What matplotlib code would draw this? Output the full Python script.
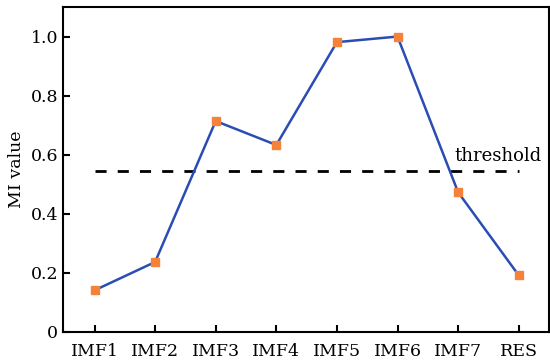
import matplotlib
matplotlib.use("Agg")
import matplotlib.pyplot as plt

categories = ["IMF1", "IMF2", "IMF3", "IMF4", "IMF5", "IMF6", "IMF7", "RES"]
mi_values = [0.141, 0.237, 0.714, 0.633, 0.981, 1.0, 0.473, 0.192]
threshold = 0.546
yticks = [0, 0.2, 0.4, 0.6, 0.8, 1.0]
ytick_labels = ["0", "0.2", "0.4", "0.6", "0.8", "1.0"]

plt.rcParams["font.family"] = ["DejaVu Serif"]
plt.rcParams["font.size"] = 12.5

fig = plt.figure(figsize=(5.5, 3.64), dpi=100)
ax = fig.add_axes([63 / 550, 32 / 364, 486 / 550, 325 / 364])

x = list(range(len(categories)))
ax.plot([x[0], x[-1]], [threshold, threshold], color="black", linestyle=(0, (4, 4)), linewidth=2)
ax.plot(x, mi_values, color="#2b4db3", linewidth=1.8, marker="s", markersize=6,
        markerfacecolor="#f5823a", markeredgecolor="#f5823a", zorder=3)
ax.text(7.38, threshold + 0.02, "threshold", ha="right", va="bottom", fontsize=13)

ax.set_xlim(-0.52, 7.5)
ax.set_ylim(0, 1.1)
ax.set_xticks(x)
ax.set_xticklabels(categories)
ax.set_yticks(yticks)
ax.set_yticklabels(ytick_labels)
ax.set_ylabel("MI value", fontsize=12.5)
ax.tick_params(direction="in", length=5, width=1.5)
ax.tick_params(axis="x", pad=8)
for s in ax.spines.values():
    s.set_linewidth(1.5)

fig.savefig("out.png", dpi=100)
